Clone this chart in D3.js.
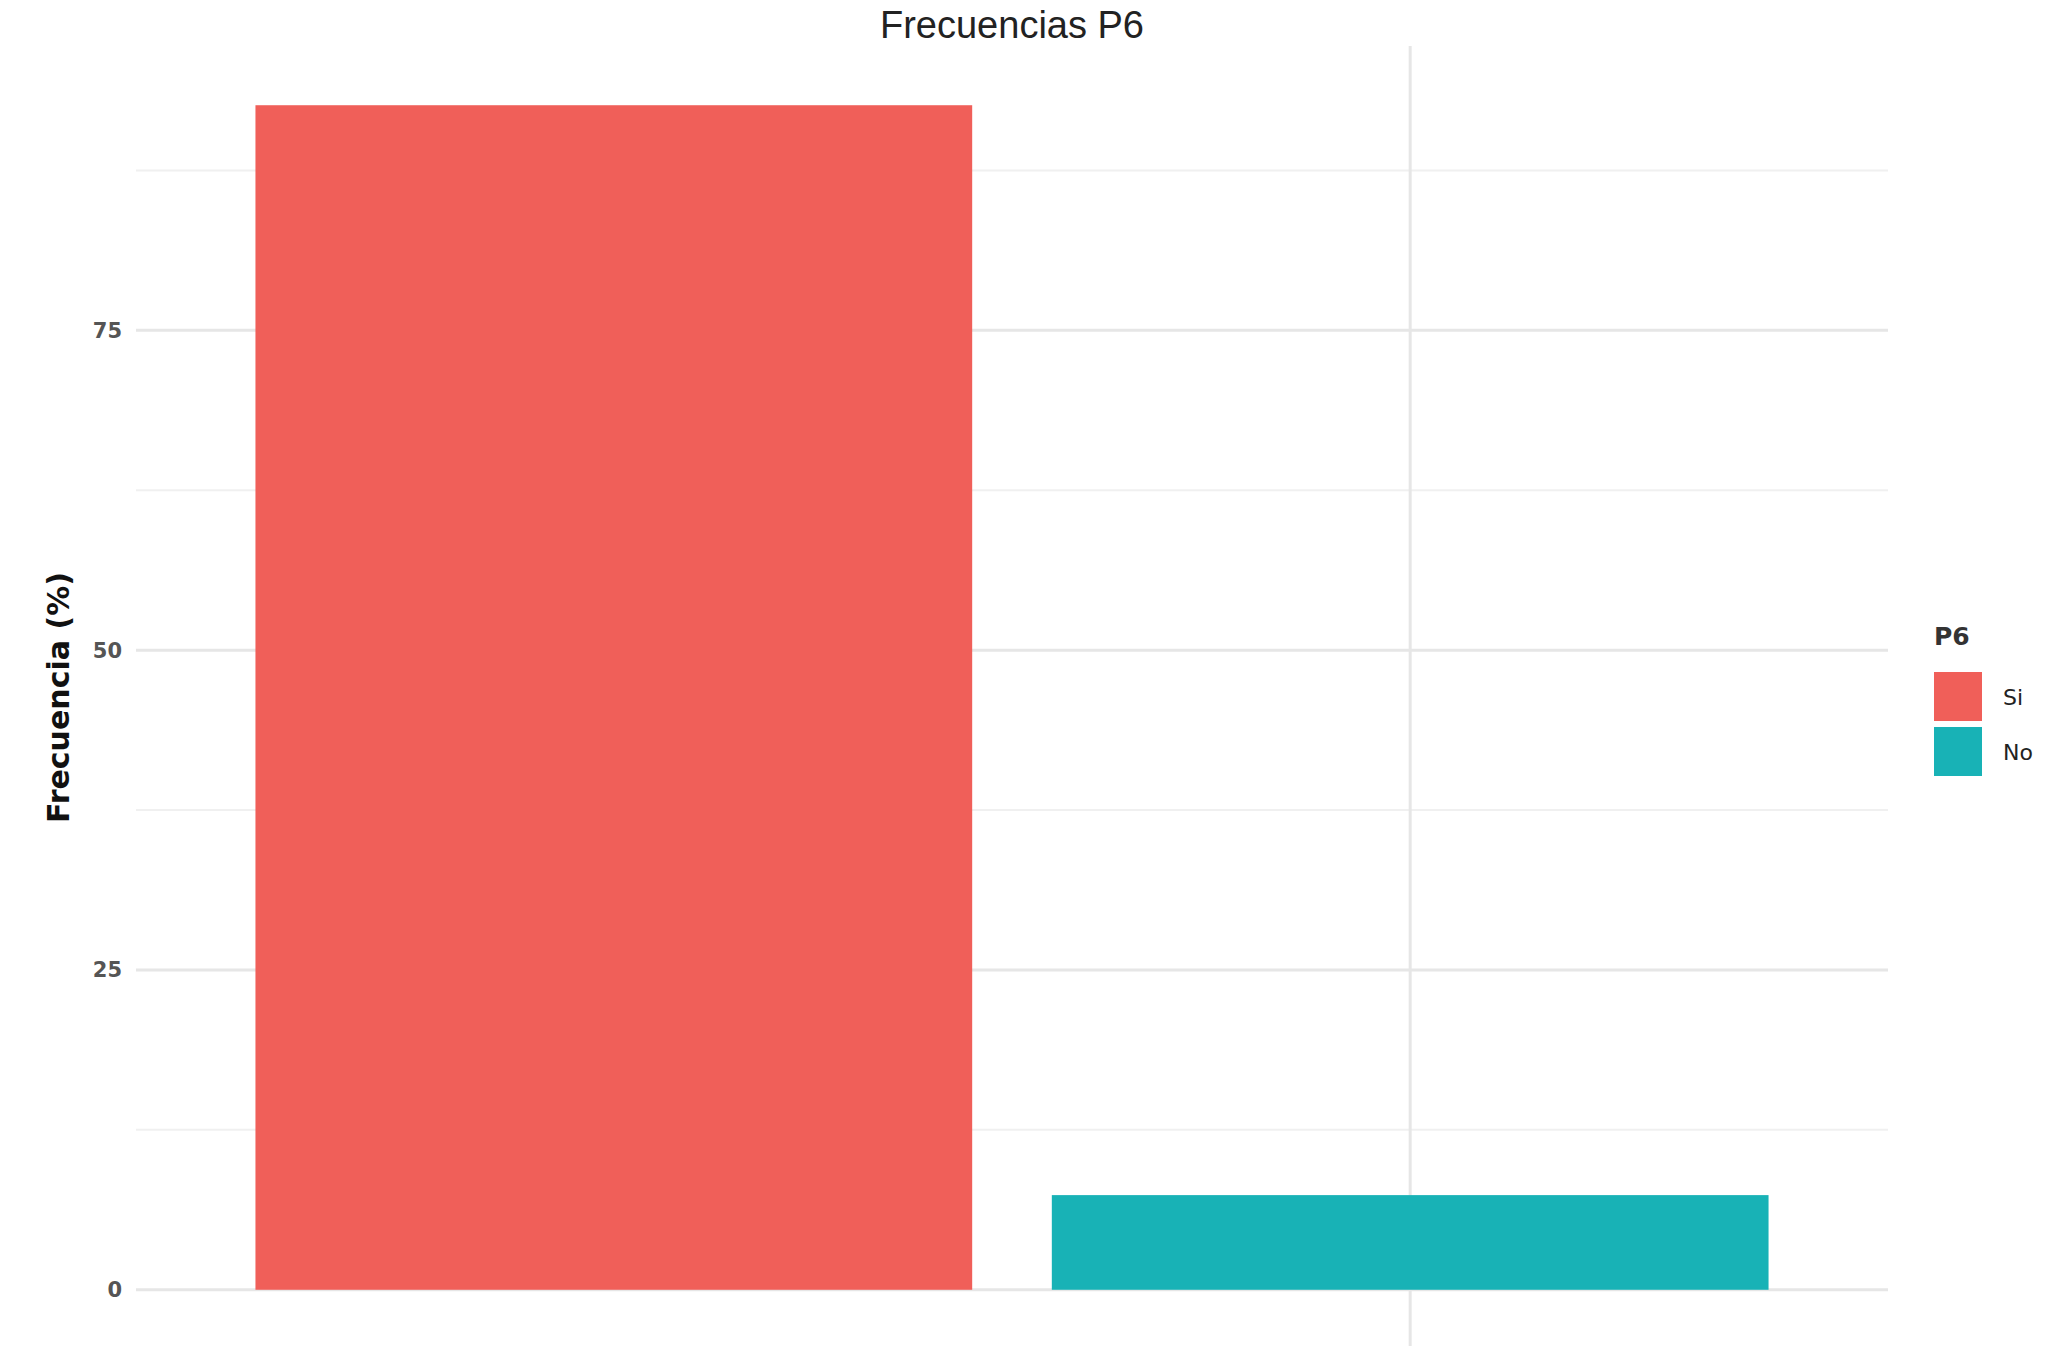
<!DOCTYPE html>
<html><head><meta charset="utf-8">
<script src="https://cdn.jsdelivr.net/npm/d3@7"></script>
<style>body{margin:0;background:#fff}svg{display:block}</style>
</head><body>
<script>
const categories = ["Si", "No"];
const values = [92.6, 7.4];
const colors = ["#F05F59", "#18B2B6"];
const majorTicks = [0, 25, 50, 75];
const minorTicks = [12.5, 37.5, 62.5, 87.5];
const vGridCategories = ["No"];
const title = "Frecuencias P6";
const yTitle = "Frecuencia (%)";
const legendTitle = "P6";

const W = 2046, H = 1346;
const panel = {left: 136, right: 1888, top: 46, bottom: 1349};
const svg = d3.select("body").append("svg").attr("width", W).attr("height", H);
svg.append("rect").attr("width", W).attr("height", H).attr("fill", "#fff");

const maxV = d3.max(values);
const y = d3.scaleLinear().domain([-0.05 * maxV, maxV * 1.05]).range([panel.bottom, panel.top]);
// discrete scale: bar width 0.9 unit, 0.6 unit expansion each side
const x = d3.scaleBand().domain(categories)
  .range([panel.left, panel.right]).paddingInner(0.1).paddingOuter(0.15);
const xc = c => x(c) + x.bandwidth() / 2;
const bw = x.bandwidth();

const g = svg.append("g");
g.selectAll(".minor").data(minorTicks).enter().append("line")
  .attr("x1", panel.left).attr("x2", panel.right)
  .attr("y1", d => y(d)).attr("y2", d => y(d))
  .attr("stroke", "#F0F0F0").attr("stroke-width", 2);
g.selectAll(".major").data(majorTicks).enter().append("line")
  .attr("x1", panel.left).attr("x2", panel.right)
  .attr("y1", d => y(d)).attr("y2", d => y(d))
  .attr("stroke", "#E6E6E6").attr("stroke-width", 3);
g.selectAll(".vmajor").data(vGridCategories).enter().append("line")
  .attr("x1", d => xc(d)).attr("x2", d => xc(d))
  .attr("y1", panel.top).attr("y2", panel.bottom)
  .attr("stroke", "#E6E6E6").attr("stroke-width", 3);

g.selectAll(".bar").data(categories).enter().append("rect")
  .attr("x", d => x(d)).attr("width", bw)
  .attr("y", (d, i) => y(values[i]))
  .attr("height", (d, i) => y(0) - y(values[i]))
  .attr("fill", (d, i) => colors[i]);

g.selectAll(".yl").data(majorTicks).enter().append("text")
  .attr("x", 122).attr("y", d => y(d)).attr("dy", "0.35em")
  .attr("text-anchor", "end").attr("font-family", "DejaVu Sans, sans-serif")
  .attr("font-size", 21).attr("font-weight", "bold").attr("fill", "#555")
  .text(d => d);

svg.append("text")
  .attr("transform", `translate(69,${(panel.top + panel.bottom) / 2}) rotate(-90)`)
  .attr("text-anchor", "middle").attr("font-family", "DejaVu Sans, sans-serif")
  .attr("font-size", 30).attr("font-weight", "bold").attr("fill", "#111")
  .text(yTitle);

svg.append("text")
  .attr("x", (panel.left + panel.right) / 2).attr("y", 38)
  .attr("text-anchor", "middle").attr("font-family", "Liberation Sans, Arial, sans-serif")
  .attr("font-size", 38).attr("fill", "#222")
  .text(title);

const lg = svg.append("g");
lg.append("text").attr("x", 1934).attr("y", 645)
  .attr("font-family", "DejaVu Sans, sans-serif").attr("font-size", 25)
  .attr("font-weight", "bold").attr("fill", "#333").text(legendTitle);
categories.forEach((c, i) => {
  lg.append("rect").attr("x", 1934).attr("y", 672 + i * 55)
    .attr("width", 48).attr("height", 49).attr("fill", colors[i]);
  lg.append("text").attr("x", 2003).attr("y", 697 + i * 55).attr("dy", "0.35em")
    .attr("font-family", "DejaVu Sans, sans-serif").attr("font-size", 22)
    .attr("fill", "#222").text(c);
});
</script>
</body></html>
